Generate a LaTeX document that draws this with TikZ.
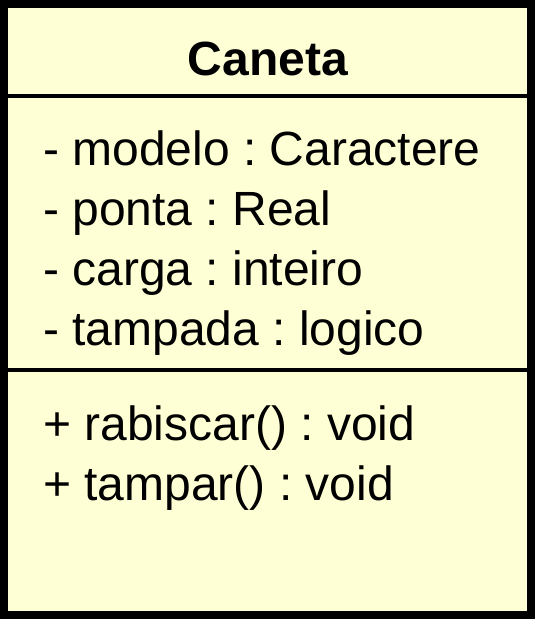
\documentclass[tikz,border=0pt]{standalone}
\usepackage{fontspec}
\setmainfont{Liberation Sans}
\frenchspacing
\definecolor{classfill}{HTML}{FFFFD6}
\begin{document}
\begin{tikzpicture}[x=1pt,y=-1pt,
  member/.style={anchor=base west,inner sep=0pt,font=\fontsize{48}{58}\selectfont},
  classname/.style={anchor=base,inner sep=0pt,font=\fontsize{48}{58}\selectfont\bfseries},
  frame/.style={draw=black,line width=8pt,fill=classfill},
  divider/.style={draw=black,line width=4.5pt}]
\useasboundingbox (0,0) rectangle (535,619);
% class box
\path[frame] (4,4) rectangle (531,615);
\coordinate (d1l) at (4,96);  \coordinate (d1r) at (531,96);
\coordinate (d2l) at (4,370); \coordinate (d2r) at (531,370);
\draw[divider] (d1l) -- (d1r);
\draw[divider] (d2l) -- (d2r);
% name compartment
\node[classname] (name) at (268,75) {Caneta};
% attributes
\node[member] (a1) at (43,165) {- modelo : Caractere};
\node[member] (a2) at (43,225) {- ponta : Real};
\node[member] (a3) at (43,285) {- carga : inteiro};
\node[member] (a4) at (43,345) {- tampada : logico};
% operations
\node[member] (m1) at (43,440) {+ rabiscar() : void};
\node[member] (m2) at (43,500) {+ tampar() : void};
\end{tikzpicture}
\end{document}
